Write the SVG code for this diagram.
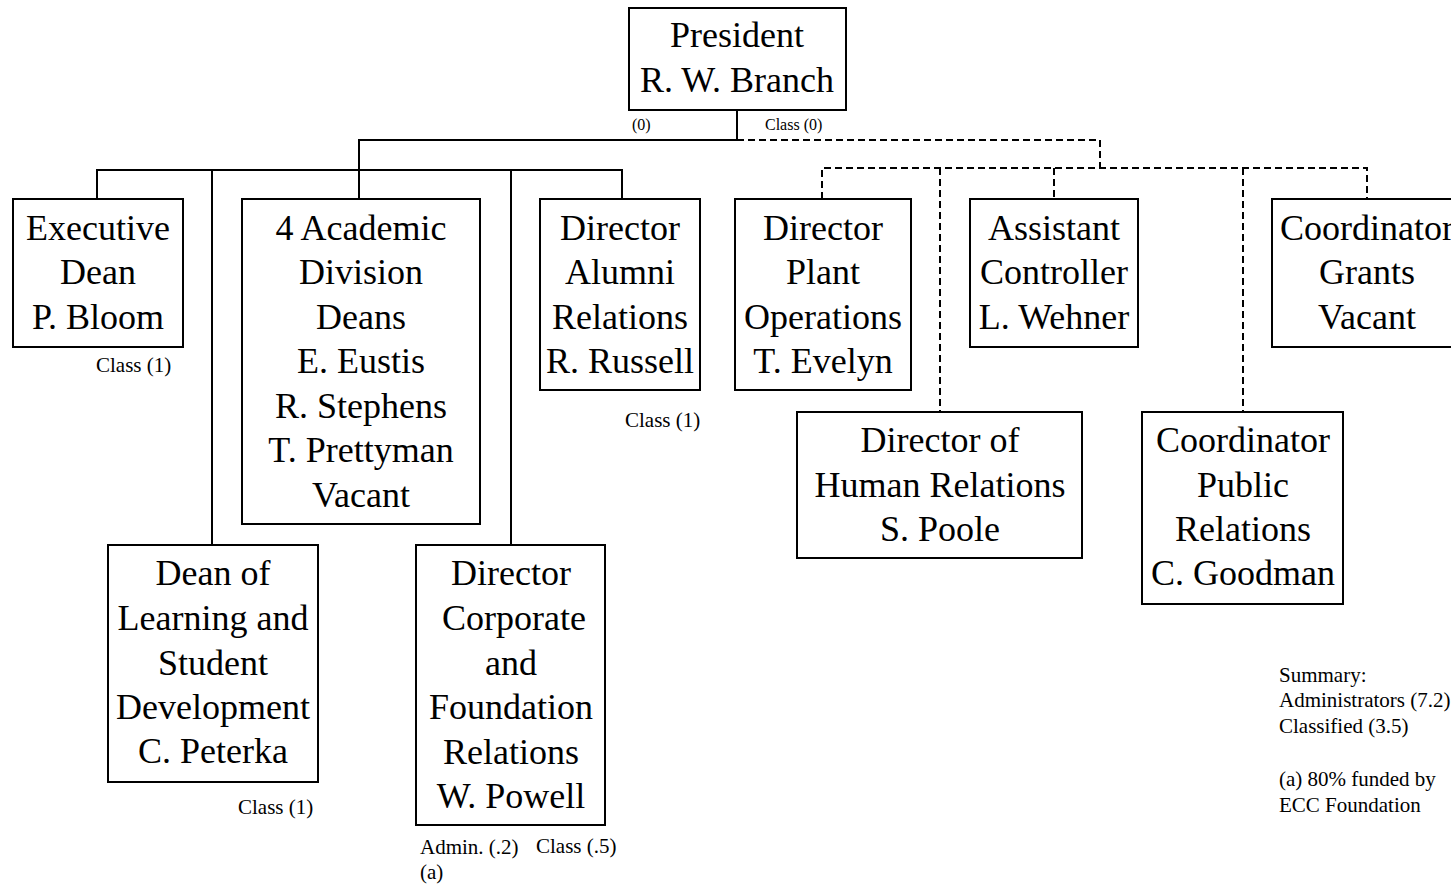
<svg xmlns="http://www.w3.org/2000/svg" width="1451" height="885" viewBox="0 0 1451 885">
<style>
.box{fill:#fff;stroke:#000;stroke-width:2}
.t{font-family:"Liberation Serif","Times New Roman",serif;font-size:36px;fill:#000;text-anchor:middle}
.s{font-family:"Liberation Serif","Times New Roman",serif;font-size:21px;fill:#000}
.xs{font-family:"Liberation Serif","Times New Roman",serif;font-size:16px;fill:#000}
.solid{fill:none;stroke:#000;stroke-width:2}
.dash{fill:none;stroke:#000;stroke-width:2;stroke-dasharray:7 4}
</style>
<rect width="1451" height="885" fill="#fff"/>
<g id="connectors">
<path class="solid" d="M737 110V140H359V170M97 199V170H622V199M359 170V199M212 170V545M511 170V545"/>
<path class="dash" d="M737 140H1100V168M822 199V168H1367V199M940 168V412M1054 168V199M1243 168V412"/>
</g>
<g id="president">
<rect class="box" x="629" y="8" width="217" height="102"/>
<text class="t" x="737" y="47">President</text>
<text class="t" x="737" y="92">R. W. Branch</text>
<text class="xs" x="632" y="130">(0)</text>
<text class="xs" x="765" y="130">Class (0)</text>
</g>
<g id="executive-dean">
<rect class="box" x="13" y="199" width="170" height="148"/>
<text class="t" x="98" y="240">Executive</text>
<text class="t" x="98" y="284">Dean</text>
<text class="t" x="98" y="329">P. Bloom</text>
<text class="s" x="96" y="372">Class (1)</text>
</g>
<g id="academic-deans">
<rect class="box" x="242" y="199" width="238" height="325"/>
<text class="t" x="361" y="240">4 Academic</text>
<text class="t" x="361" y="284">Division</text>
<text class="t" x="361" y="329">Deans</text>
<text class="t" x="361" y="373">E. Eustis</text>
<text class="t" x="361" y="418">R. Stephens</text>
<text class="t" x="361" y="462">T. Prettyman</text>
<text class="t" x="361" y="507">Vacant</text>
</g>
<g id="alumni-relations">
<rect class="box" x="540" y="199" width="160" height="191"/>
<text class="t" x="620" y="240">Director</text>
<text class="t" x="620" y="284">Alumni</text>
<text class="t" x="620" y="329">Relations</text>
<text class="t" x="620" y="373">R. Russell</text>
<text class="s" x="625" y="427">Class (1)</text>
</g>
<g id="dean-learning">
<rect class="box" x="108" y="545" width="210" height="237"/>
<text class="t" x="213" y="585">Dean of</text>
<text class="t" x="213" y="630">Learning and</text>
<text class="t" x="213" y="675">Student</text>
<text class="t" x="213" y="719">Development</text>
<text class="t" x="213" y="763">C. Peterka</text>
<text class="s" x="238" y="814">Class (1)</text>
</g>
<g id="corporate-foundation">
<rect class="box" x="416" y="545" width="189" height="280"/>
<text class="t" x="511" y="585">Director</text>
<text class="t" x="514" y="630">Corporate</text>
<text class="t" x="511" y="675">and</text>
<text class="t" x="511" y="719">Foundation</text>
<text class="t" x="511" y="764">Relations</text>
<text class="t" x="511" y="808">W. Powell</text>
<text class="s" x="420" y="854">Admin. (.2)</text>
<text class="s" x="536" y="853">Class (.5)</text>
<text class="s" x="420" y="879">(a)</text>
</g>
<g id="plant-operations">
<rect class="box" x="735" y="199" width="176" height="191"/>
<text class="t" x="823" y="240">Director</text>
<text class="t" x="823" y="284">Plant</text>
<text class="t" x="823" y="329">Operations</text>
<text class="t" x="823" y="373">T. Evelyn</text>
</g>
<g id="assistant-controller">
<rect class="box" x="970" y="199" width="168" height="148"/>
<text class="t" x="1054" y="240">Assistant</text>
<text class="t" x="1054" y="284">Controller</text>
<text class="t" x="1054" y="329">L. Wehner</text>
</g>
<g id="coordinator-grants">
<rect class="box" x="1272" y="199" width="190" height="148"/>
<text class="t" x="1367" y="240">Coordinator</text>
<text class="t" x="1367" y="284">Grants</text>
<text class="t" x="1367" y="329">Vacant</text>
</g>
<g id="human-relations">
<rect class="box" x="797" y="412" width="285" height="146"/>
<text class="t" x="940" y="452">Director of</text>
<text class="t" x="940" y="497">Human Relations</text>
<text class="t" x="940" y="541">S. Poole</text>
</g>
<g id="public-relations">
<rect class="box" x="1142" y="412" width="201" height="192"/>
<text class="t" x="1243" y="452">Coordinator</text>
<text class="t" x="1243" y="497">Public</text>
<text class="t" x="1243" y="541">Relations</text>
<text class="t" x="1243" y="585">C. Goodman</text>
</g>
<g id="summary">
<text class="s" x="1279" y="682">Summary:</text>
<text class="s" x="1279" y="707">Administrators (7.2)</text>
<text class="s" x="1279" y="733">Classified (3.5)</text>
<text class="s" x="1279" y="786">(a) 80% funded by</text>
<text class="s" x="1279" y="812">ECC Foundation</text>
</g>
</svg>
